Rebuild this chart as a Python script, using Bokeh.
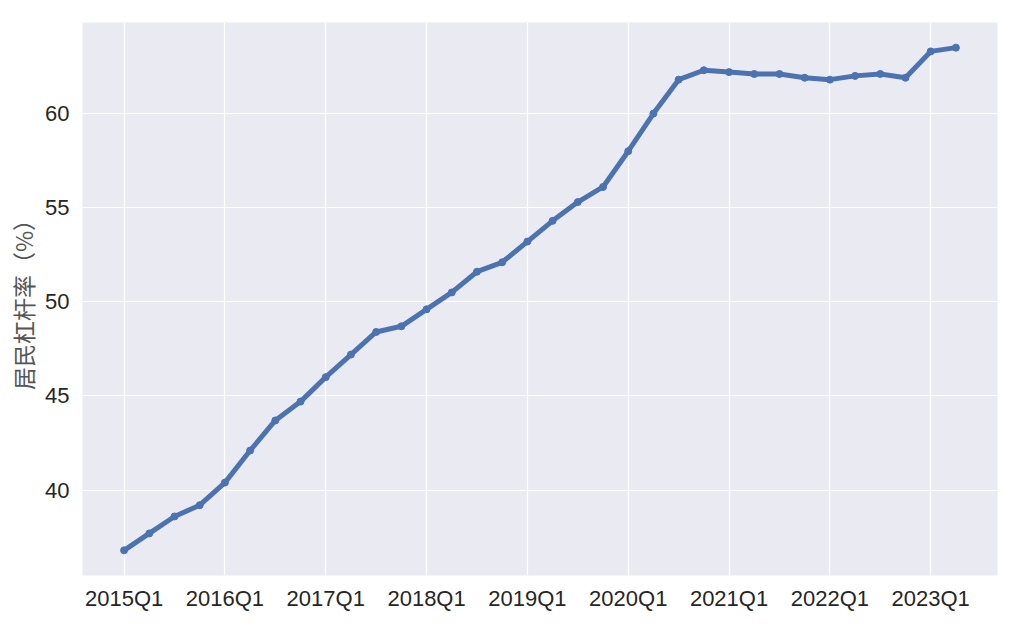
from bokeh.plotting import figure
from bokeh.models import FixedTicker, Range1d, ColumnDataSource
from bokeh.embed import file_html
from bokeh.resources import INLINE

quarters = [f"{y}Q{q}" for y in range(2015, 2024) for q in range(1, 5)][:34]
leverage = [36.8, 37.7, 38.6, 39.2, 40.4, 42.1, 43.7, 44.7,
            46.0, 47.2, 48.4, 48.7, 49.6, 50.5, 51.6, 52.1,
            53.2, 54.3, 55.3, 56.1, 58.0, 60.0, 61.8, 62.3,
            62.2, 62.1, 62.1, 61.9, 61.8, 62.0, 62.1, 61.9,
            63.3, 63.5]
y_ticks = [40, 45, 50, 55, 60]

x = list(range(len(quarters)))
src = ColumnDataSource(dict(x=x, y=leverage, q=quarters))

n = len(x) - 1
ymin, ymax = min(leverage), max(leverage)
ym = (ymax - ymin) * 0.05

p = figure(width=1021, height=622, output_backend="svg", toolbar_location=None,
           x_range=Range1d(-0.05 * n, n * 1.05), y_range=Range1d(ymin - ym, ymax + ym),
           min_border_left=82, min_border_right=24, min_border_top=22, min_border_bottom=47)
p.background_fill_color = "#EAEAF2"
p.border_fill_color = "white"
p.outline_line_color = None

p.line("x", "y", source=src, line_color="#4C72B0", line_width=5)
p.scatter("x", "y", source=src, size=7, color="#4C72B0")

xt = list(range(0, len(quarters), 4))
p.xaxis.ticker = FixedTicker(ticks=xt)
p.xaxis.major_label_overrides = {i: quarters[i] for i in xt}
p.yaxis.ticker = FixedTicker(ticks=y_ticks)
p.yaxis.axis_label = "居民杠杆率（%）"
p.yaxis.axis_label_text_font = "Noto Sans CJK SC"
p.yaxis.axis_label_text_font_style = "normal"
p.yaxis.axis_label_text_font_size = "23px"
p.yaxis.axis_label_text_color = "#555555"
p.yaxis.axis_label_standoff = 2

for ax in (p.xaxis, p.yaxis):
    ax.axis_line_color = None
    ax.major_tick_line_color = None
    ax.minor_tick_line_color = None
    ax.major_label_text_font = "Liberation Sans"
    ax.major_label_text_font_size = "22px"
    ax.major_label_text_color = "#262626"
p.xaxis.major_label_standoff = 4
p.yaxis.major_label_standoff = 7

p.grid.grid_line_color = "white"
p.grid.grid_line_width = 1.2

open("out.html", "w").write(file_html(p, INLINE))
